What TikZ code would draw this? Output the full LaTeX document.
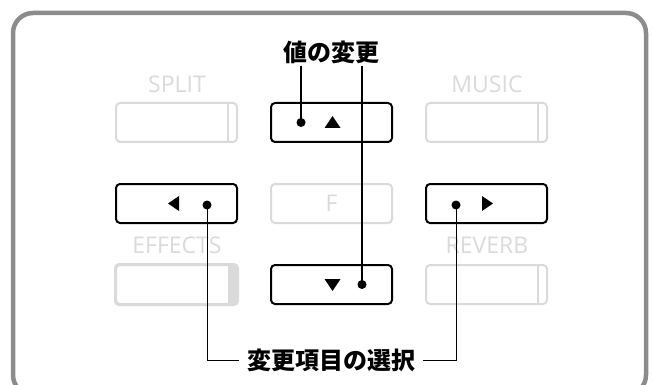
\documentclass[tikz,border=0pt]{standalone}
\usepackage{fontspec}
\setsansfont{Open Sans}
\newfontfamily\jpfont{Noto Sans CJK JP}
\usetikzlibrary{calc}

\definecolor{framegray}{HTML}{8C8C8C}
\definecolor{keygray}{HTML}{DADADA}

\begin{document}
\begin{tikzpicture}[x=1pt,y=-1pt,
  key/.style={draw=black,line width=2pt,rounded corners=4pt,minimum width=121pt,minimum height=39pt,inner sep=0pt},
  dimkey/.style={key,draw=keygray},
  keyname/.style={text=keygray,font=\sffamily\fontsize{23}{23}\selectfont,inner sep=0pt},
  callout/.style={font=\jpfont\bfseries\fontsize{24}{24}\selectfont,inner ysep=2pt,inner xsep=8pt},
  dot/.style={circle,fill=black,inner sep=0pt,minimum size=9pt}]
  \useasboundingbox (0,0) rectangle (653,385);
  \clip (0,0) rectangle (653,385);
  % panel frame
  \draw[line width=4.5pt,framegray,rounded corners=20pt] (13,13) rectangle (646,395);
  % grey keys
  \node[dimkey] (split) at (176.5,122.5) {};
  \node[dimkey] (music) at (486.5,122.5) {};
  \node[dimkey] (fkey) at (331.5,203.5) {\sffamily\fontsize{23}{23}\selectfont\textcolor{keygray}{F}};
  \node[dimkey] (effects) at (176.5,284.5) {};
  \node[dimkey] (reverb) at (486.5,284.5) {};
  \fill[keygray,rounded corners=3pt] ($(effects.north east)+(-10,0)$) rectangle (effects.south east);
  \draw[keygray,line width=2pt] ($(split.north east)+(-10,0)$) -- ($(split.south east)+(-10,0)$);
  \draw[keygray,line width=2pt] ($(music.north east)+(-10,0)$) -- ($(music.south east)+(-10,0)$);
  \draw[keygray,line width=2pt] ($(reverb.north east)+(-10,0)$) -- ($(reverb.south east)+(-10,0)$);
  \draw[keygray,line width=2pt,rounded corners=4pt] (effects.north west) rectangle (effects.south east);
  \node[keyname] (splitname) at (177,84) {SPLIT};
  \node[keyname] (musicname) at (487,84) {MUSIC};
  \node[keyname] (effectsname) at (177,245) {EFFECTS};
  \node[keyname] (reverbname) at (487,245) {REVERB};
  % cursor keys
  \node[key] (up) at (331.5,122.5) {};
  \node[key] (left) at (176.5,203.5) {};
  \node[key] (right) at (486.5,203.5) {};
  \node[key] (down) at (331.5,284.5) {};
  \fill ($(up)+(1,-6.5)$) -- ($(up)+(9,5.5)$) -- ($(up)+(-7,5.5)$) -- cycle;
  \fill ($(down)+(1,6.5)$) -- ($(down)+(9,-5.5)$) -- ($(down)+(-7,-5.5)$) -- cycle;
  \fill ($(left)+(-8.5,0)$) -- ($(left)+(2.5,-7.5)$) -- ($(left)+(2.5,7.5)$) -- cycle;
  \fill ($(right)+(6.5,0)$) -- ($(right)+(-4.5,-7.5)$) -- ($(right)+(-4.5,7.5)$) -- cycle;
  \node[dot] (updot) at ($(up)+(-30.5,0)$) {};
  \node[dot] (downdot) at ($(down)+(30.5,0)$) {};
  \node[dot] (leftdot) at ($(left)+(30.5,1.5)$) {};
  \node[dot] (rightdot) at ($(right)+(-30.5,1.5)$) {};
  % callouts
  \node[callout] (val) at (331,52) {値の変更};
  \node[callout] (sel) at (331,360) {変更項目の選択};
  \draw[line width=1.5pt] (updot.center |- val.south) -- (updot.center);
  \draw[line width=1.5pt] (downdot.center |- val.south) -- (downdot.center);
  \draw[line width=1pt] (leftdot.center) |- (sel.west);
  \draw[line width=1pt] (rightdot.center) |- (sel.east);
\end{tikzpicture}
\end{document}
